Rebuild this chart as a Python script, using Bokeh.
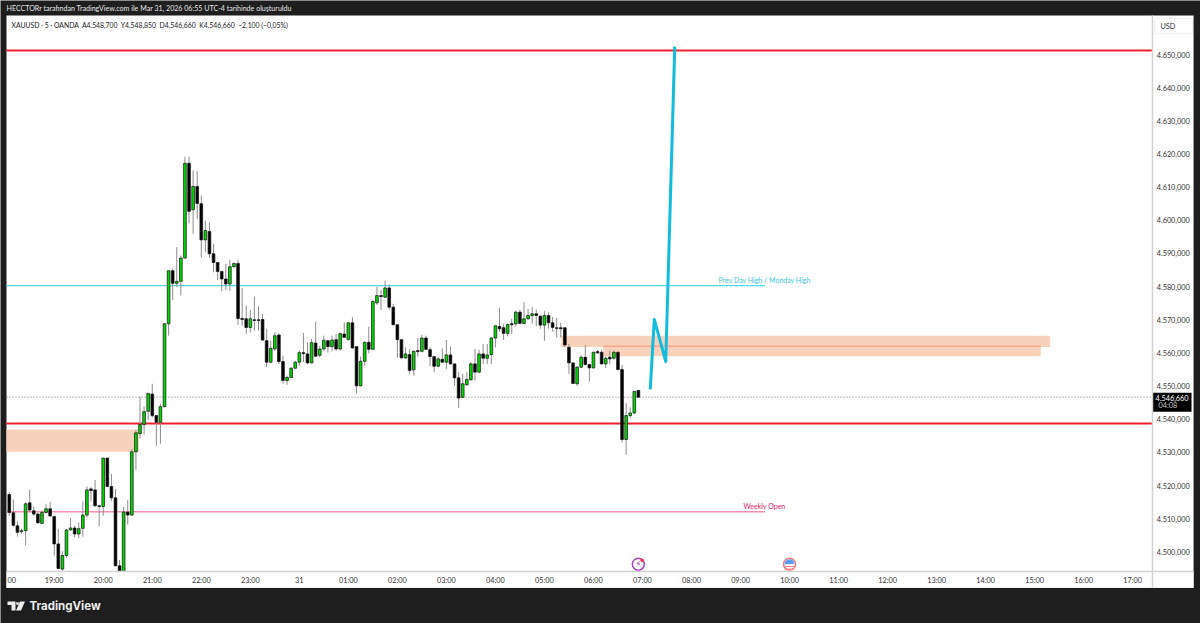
from bokeh.plotting import figure
from bokeh.models import Label, PolyAnnotation, FixedTicker, ColumnDataSource, Range1d
from bokeh.core.properties import value
from bokeh.embed import file_html
from bokeh.resources import INLINE

# ---------- data ----------
first_bar = -11   # bar index; 0 = 19:00, one bar = 5 minutes
opens = [4517.3,4511.8,4507.9,4506.1,4506.4,4514.8,4512.4,4511.4,4508.6,4511.9,
 4513.0,4510.7,4502.4,4494.8,4498.9,4506.6,4507.2,4505.4,4507.1,4511.1,
 4519.0,4518.7,4513.9,4513.7,4528.3,4519.7,4516.3,4495.8,4491.9,4512.0,
 4511.1,4530.2,4535.7,4538.4,4542.4,4547.6,4541.1,4539.1,4543.8,4568.8,
 4584.8,4581.0,4581.6,4588.6,4617.2,4603.2,4610.2,4605.0,4594.1,4596.6,
 4589.9,4587.3,4584.6,4582.3,4580.8,4586.0,4587.0,4570.4,4570.3,4567.7,
 4570.0,4570.0,4570.1,4563.7,4557.2,4561.2,4565.4,4557.4,4551.7,4552.6,
 4555.4,4557.2,4560.1,4559.7,4557.0,4563.0,4559.3,4561.2,4563.7,4561.9,
 4564.0,4561.2,4565.7,4564.1,4569.1,4561.9,4550.1,4557.5,4563.2,4561.1,
 4575.1,4577.3,4576.8,4579.6,4573.8,4568.5,4564.0,4558.5,4559.5,4554.9,
 4560.7,4560.5,4564.5,4561.0,4558.9,4556.0,4558.1,4557.2,4559.4,4556.7,
 4552.5,4546.6,4550.4,4551.9,4556.7,4554.2,4559.7,4558.4,4559.5,4564.5,
 4568.0,4567.6,4565.9,4568.8,4568.8,4572.3,4568.9,4570.3,4571.3,4571.8,
 4571.1,4568.4,4571.3,4569.1,4567.6,4567.6,4567.6,4561.7,4557.0,4550.7,
 4555.7,4558.7,4556.5,4555.5,4560.4,4560.2,4556.7,4558.7,4558.4,4560.2,
 4555.0,4533.9,4541.1,4541.9,4548.7]
highs = [4518.0,4515.8,4509.2,4507.0,4514.9,4518.8,4513.6,4511.9,4512.6,4514.5,
 4515.1,4510.9,4506.9,4500.2,4506.9,4510.2,4507.9,4508.9,4515.2,4519.7,
 4519.5,4521.7,4513.9,4528.3,4528.3,4523.5,4519.0,4497.6,4513.6,4515.7,
 4531.0,4536.8,4546.8,4543.8,4547.8,4550.7,4541.1,4544.6,4568.9,4584.8,
 4585.4,4591.9,4589.4,4619.2,4619.2,4615.0,4614.8,4607.5,4599.9,4599.4,
 4592.9,4587.3,4584.6,4586.9,4588.1,4587.3,4588.1,4579.6,4574.3,4573.0,
 4577.0,4574.0,4571.8,4567.3,4563.7,4566.2,4565.9,4559.2,4553.2,4555.7,
 4557.7,4560.7,4566.0,4563.2,4564.2,4569.5,4562.2,4565.2,4563.9,4565.2,
 4565.7,4566.2,4569.2,4569.2,4570.8,4561.9,4558.9,4563.4,4567.9,4576.0,
 4580.0,4579.1,4581.8,4580.6,4574.8,4568.5,4564.0,4561.7,4561.2,4560.7,
 4564.5,4565.5,4565.2,4561.7,4558.9,4558.7,4561.4,4563.9,4561.9,4556.7,
 4554.2,4553.7,4554.2,4557.2,4561.2,4560.9,4562.7,4562.7,4564.7,4568.2,
 4573.5,4568.8,4568.8,4570.3,4572.8,4573.1,4575.3,4573.3,4573.8,4573.1,
 4571.3,4572.6,4572.3,4570.8,4570.6,4569.1,4567.6,4562.7,4557.0,4556.0,
 4559.2,4562.4,4556.7,4560.4,4560.9,4561.0,4559.0,4560.7,4560.7,4560.4,
 4556.4,4544.9,4543.6,4548.6,4548.85]
lows = [4510.9,4507.6,4504.6,4505.5,4501.9,4511.9,4510.9,4508.4,4508.4,4511.6,
 4510.7,4498.9,4494.8,4494.1,4498.2,4506.4,4504.4,4504.1,4504.6,4510.4,
 4515.2,4513.6,4507.7,4510.9,4519.7,4515.4,4495.6,4491.3,4489.8,4508.2,
 4510.9,4524.8,4534.2,4535.4,4539.8,4540.6,4532.0,4532.6,4543.6,4565.2,
 4576.0,4580.0,4577.3,4588.6,4599.1,4595.9,4600.4,4588.7,4590.4,4588.7,
 4584.3,4582.0,4578.6,4579.0,4578.8,4585.8,4568.5,4568.2,4565.7,4566.2,
 4566.7,4566.7,4563.7,4555.7,4556.9,4560.7,4556.7,4550.7,4550.4,4552.5,
 4555.2,4556.2,4557.2,4556.7,4556.9,4558.9,4558.7,4560.7,4560.1,4560.5,
 4560.7,4560.7,4564.7,4563.7,4561.3,4547.8,4549.9,4556.2,4559.9,4561.1,
 4574.5,4573.0,4576.6,4573.0,4568.4,4558.5,4558.4,4558.2,4553.7,4553.2,
 4558.9,4560.2,4560.9,4556.0,4554.2,4555.7,4557.1,4555.2,4556.5,4550.1,
 4543.4,4546.4,4550.1,4551.7,4551.7,4554.0,4556.7,4556.7,4556.7,4561.7,
 4566.4,4563.9,4565.0,4565.7,4568.0,4568.8,4568.8,4570.0,4568.8,4568.0,
 4567.3,4563.7,4567.3,4566.4,4564.7,4564.7,4561.7,4553.7,4550.7,4550.1,
 4555.4,4556.2,4551.4,4555.3,4559.7,4556.5,4555.4,4556.7,4558.0,4554.7,
 4532.9,4529.3,4540.3,4541.6,4546.66]
closes = [4511.9,4508.0,4505.9,4506.4,4514.5,4512.6,4511.4,4508.8,4511.9,4513.0,
 4510.8,4502.4,4495.0,4498.9,4506.6,4507.2,4505.4,4507.0,4511.1,4518.7,
 4518.5,4513.9,4513.7,4528.3,4519.7,4516.3,4495.8,4492.8,4512.0,4511.1,
 4530.2,4535.9,4538.4,4542.3,4547.8,4541.1,4539.1,4543.8,4568.8,4584.8,
 4581.0,4581.6,4588.6,4617.2,4602.7,4610.2,4605.1,4594.1,4596.9,4589.9,
 4587.3,4584.6,4582.3,4580.8,4586.0,4587.0,4570.4,4570.1,4567.7,4570.3,
 4569.8,4569.8,4563.9,4557.2,4561.4,4565.2,4557.4,4551.7,4552.6,4555.4,
 4557.2,4560.1,4559.8,4557.0,4563.1,4559.0,4561.2,4563.8,4561.9,4563.9,
 4561.2,4565.8,4564.7,4569.1,4561.5,4550.1,4557.5,4563.2,4561.1,4575.5,
 4577.3,4577.0,4579.6,4573.8,4568.5,4564.0,4558.5,4559.7,4554.7,4560.5,
 4560.4,4564.5,4561.1,4558.9,4556.0,4558.2,4557.2,4559.4,4556.7,4552.5,
 4546.4,4550.7,4552.0,4556.7,4554.2,4559.7,4558.4,4559.4,4564.5,4568.2,
 4567.3,4565.9,4568.6,4568.5,4572.3,4568.9,4570.3,4571.3,4571.8,4571.3,
 4568.4,4571.3,4569.1,4567.7,4567.4,4567.3,4562.4,4557.0,4550.8,4555.7,
 4558.7,4556.5,4555.5,4560.2,4560.0,4556.7,4558.4,4558.2,4560.2,4555.0,
 4533.9,4541.1,4541.9,4548.4,4546.66]

price_ticks = [4500,4510,4520,4530,4540,4550,4560,4570,4580,4590,4600,4610,4620,4630,4640,4650]
price_labels = ["4.500,000","4.510,000","4.520,000","4.530,000","4.540,000","4.550,000","4.560,000","4.570,000",
                "4.580,000","4.590,000","4.600,000","4.610,000","4.620,000","4.630,000","4.640,000","4.650,000"]
time_ticks = [0,12,24,36,48,60,72,84,96,108,120,132,144,156,168,180,192,204,216,228,240,252,264]
time_labels = ["19:00","20:00","21:00","22:00","23:00","31","01:00","02:00","03:00","04:00","05:00","06:00",
               "07:00","08:00","09:00","10:00","11:00","12:00","13:00","14:00","15:00","16:00","17:00"]

red_levels = [4651.2, 4538.7]
last_price = 4546.66
prev_high_price, prev_high_end = 4580.3, 174
weekly_open_price, weekly_open_end = 4512.1, 174
# zones: left bar, right bar, top price, bottom price
zone_left = [-11.68, 124.1, 134.4]
zone_right = [20.7, 243.8, 241.5]
zone_top = [4536.9, 4565.2, 4562.1]
zone_bottom = [4530.2, 4561.8, 4559.0]
zone_mid_price, zone_mid_left, zone_mid_right = 4562.0, 134.4, 241.5
path_x = [145.9, 146.9, 149.7, 151.9]
path_y = [4549.0, 4570.1, 4557.4, 4652.4]
bolt_bar, flag_bar, icon_price = 143, 180, 4496.3
# the canvas as a chart area: whole window, white panel inside it, axes inside the panel
x_min, x_max, y_min, y_max = -13.15, 280.6, 4478.4, 4666.3
panel_left, panel_right, panel_top, panel_bottom = -11.68, 278.9, 4661.8, 4489.2
axis_bar, axis_price = 268.9, 4494.0
tag_top, tag_bottom, tag_right = 4548.0, 4542.3, 278.4
usd_left, usd_right, usd_top, usd_bottom = 269.4, 278.6, 4660.9, 4656.3

# ---------- figure ----------
DARK = "#1e1e1e"
FONT = "Lato"
p = figure(width=1200, height=623, output_backend="svg", toolbar_location=None,
           x_range=Range1d(x_min, x_max), y_range=Range1d(y_min, y_max),
           y_axis_location="right", x_axis_location="below",
           min_border_left=0, min_border_top=0, min_border_right=0, min_border_bottom=0,
           background_fill_color=DARK, border_fill_color=DARK, outline_line_color=None)
p.grid.visible = False

for ax, ticks, labels in ((p.yaxis[0], price_ticks, price_labels), (p.xaxis[0], time_ticks, time_labels)):
    ax.ticker = FixedTicker(ticks=ticks)
    ax.major_label_overrides = dict(zip(ticks, labels))
    ax.major_tick_line_color = None
    ax.minor_tick_line_color = None
    ax.major_tick_out = 0
    ax.major_tick_in = 0
    ax.axis_line_color = "#d2d2d2"
    ax.axis_line_width = 1.5
    ax.major_label_text_font = FONT
    ax.major_label_text_color = "#333333"
    ax.major_label_text_font_size = "7.3px"
p.yaxis[0].fixed_location = axis_bar
p.xaxis[0].fixed_location = axis_price
p.yaxis[0].bounds = (panel_bottom, panel_top)
p.xaxis[0].bounds = (panel_left, panel_right)
p.yaxis[0].major_label_standoff = 4
p.xaxis[0].major_label_standoff = 4

# white chart panel
p.quad(left=[panel_left], right=[panel_right], top=[panel_top], bottom=[panel_bottom], fill_color="white", line_color=None)
p.quad(left=[usd_left], right=[usd_right], top=[usd_top], bottom=[usd_bottom], fill_color="white", line_color="#efefef")

# zones
p.quad(left=zone_left, right=zone_right, top=zone_top, bottom=zone_bottom,
       fill_color="#f8d1ba", fill_alpha=1, line_color=None)
p.segment(x0=[zone_mid_left], x1=[zone_mid_right], y0=[zone_mid_price], y1=[zone_mid_price],
          line_color="#f6a98a", line_width=1.5)

# levels
p.segment(x0=[panel_left], x1=[prev_high_end], y0=[prev_high_price], y1=[prev_high_price], line_color="#4dd8ea", line_width=1.3)
p.segment(x0=[panel_left], x1=[weekly_open_end], y0=[weekly_open_price], y1=[weekly_open_price], line_color="#f590b5", line_width=1.6)
p.segment(x0=[panel_left], x1=[axis_bar], y0=[last_price], y1=[last_price], line_color="#777777", line_width=1, line_dash="1 2")
p.segment(x0=[panel_left] * 2, x1=[axis_bar] * 2, y0=red_levels, y1=red_levels, line_color="#f0202f", line_width=2)

# candles
bars = list(range(first_bar, first_bar + len(closes)))
src = ColumnDataSource(dict(
    x=bars, o=opens, h=highs, l=lows, c=closes,
    top=[max(a, b) for a, b in zip(opens, closes)],
    bot=[min(a, b) for a, b in zip(opens, closes)],
    col=["#00d800" if c > o else "#000000" for o, c in zip(opens, closes)]))
p.segment("x", "h", "x", "l", source=src, line_color="#8c8c8c", line_width=1)
p.vbar(x="x", top="top", bottom="bot", width=0.66, source=src, fill_color="col", line_color="#111111", line_width=0.7)

# the time-axis strip hides what falls below the axis line
p.quad(left=[panel_left], right=[panel_right], top=[axis_price], bottom=[panel_bottom], fill_color="white", line_color=None)

# drawn path
p.line(path_x, path_y, line_color="#12bcdc", line_width=3, line_join="round")

# event icons
p.scatter([bolt_bar], [icon_price], size=12, marker="circle", fill_color="white", line_color="#ab47bc", line_width=1.5)
p.text([bolt_bar], [icon_price], text=["⚡"], text_font=value("DejaVu Sans"), text_font_size="9px",
       text_color="#9c27b0", text_align="center", text_baseline="middle")
p.scatter([bolt_bar + 0.9], [icon_price + 1.2], size=3.5, marker="circle", fill_color="#f23645", line_color=None)
p.scatter([flag_bar], [icon_price], size=12, marker="circle", fill_color="white", line_color="#f77c80", line_width=1.5)
p.wedge([flag_bar], [icon_price], radius=5, radius_units="screen", start_angle=0.1, end_angle=3.14,
        fill_color="#5b9cf5", line_color=None)
p.segment([flag_bar - 1, flag_bar - 0.9], [icon_price - 0.7, icon_price - 1.5],
          [flag_bar + 1, flag_bar + 0.9], [icon_price - 0.7, icon_price - 1.5], line_color="#f77c80", line_width=1)

# last-price tag
p.quad(left=[axis_bar], right=[tag_right], top=[tag_top], bottom=[tag_bottom], fill_color="#000000", line_color=None)


def txt(x, y, s, size, color, font=FONT, align="left", style="normal"):
    p.add_layout(Label(x=x, y=y, x_units="canvas", y_units="canvas", text=s, text_font=font, text_font_size=size,
                       text_color=color, text_align=align, text_baseline="middle", text_font_style=style))


txt(6, 7.5, "HECCTORr tarafından TradingView.com ile Mar 31, 2026 06:55 UTC-4 tarihinde oluşturuldu", "7.08px", "#e6e6e6")
txt(11, 24.5, "XAUUSD · 5 · OANDA\u00a0\u00a0A4.548,700\u00a0\u00a0Y4.548,850\u00a0\u00a0D4.546,660\u00a0\u00a0K4.546,660\u00a0\u00a0−2,100 (−0,05%)", "6.85px", "#222222")
txt(1160, 26, "USD", "7.3px", "#333333")
txt(7, 579, "00", "7.3px", "#333333")
txt(718, 279.5, "Prev Day High / Monday High", "7px", "#3cc7dc")
txt(743, 505.5, "Weekly Open", "7px", "#e91e63")
txt(1171.5, 397, "4.546,660", "7.3px", "#ffffff", align="center")
txt(1158, 405, "04:08", "7.3px", "#c8c8c8")

# logo
logo_shapes = [
    ([7, 15, 15, 11, 11, 7], [601, 601, 610, 610, 604.5, 604.5]),
    ([15.7, 18.3, 18.3, 15.7], [601.7, 601.7, 604.3, 604.3]),
    ([19.5, 24.5, 20.5, 15.5], [601, 601, 610, 610]),
]
for xs, ys in logo_shapes:
    p.add_layout(PolyAnnotation(xs=xs, ys=ys, xs_units="canvas", ys_units="canvas",
                                fill_color="#ececec", fill_alpha=1, line_color=None))
txt(29, 605.5, "TradingView", "11.5px", "#ececec", font="Inter", style="bold")

open("out.html", "w").write(file_html(p, INLINE))
